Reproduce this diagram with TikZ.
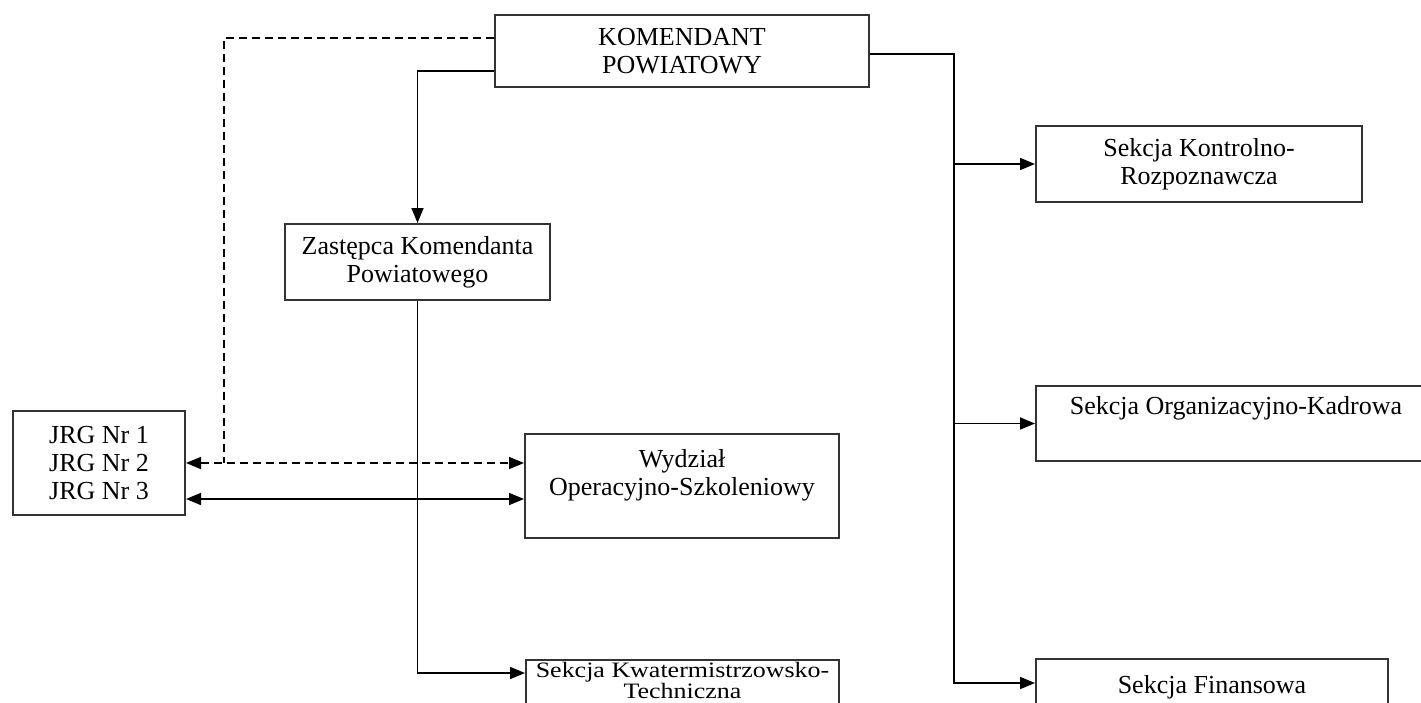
\documentclass[tikz,border=0pt]{standalone}
\usepackage{fontspec}
\setmainfont{Liberation Serif}
\usetikzlibrary{arrows.meta}

\tikzset{
  unit/.style={draw=black!80, line width=2pt, anchor=north west, align=center, inner sep=0pt, font=\fontsize{26}{28}\selectfont},
  conn/.style={line width=1.7pt},
  arr/.style={conn, -{Triangle[length=15pt,width=12pt]}},
  darr/.style={conn, {Triangle[length=15pt,width=12pt]}-{Triangle[length=15pt,width=12pt]}},
  dashline/.style={conn, dash pattern=on 8pt off 5pt},
}

\begin{document}
\begin{tikzpicture}[x=1pt, y=-1pt]
  \useasboundingbox (0,0) rectangle (1421,702);
  \node[unit, minimum width=374pt, minimum height=72pt] (kom) at (494,14) {KOMENDANT\\POWIATOWY};
  \node[unit, minimum width=265pt, minimum height=76pt] (zast) at (284,223) {Zastępca Komendanta\\Powiatowego};
  \node[unit, minimum width=172pt, minimum height=104pt] (jrg) at (12,410) {JRG Nr 1\\JRG Nr 2\\JRG Nr 3};
  \node[unit, minimum width=314pt, minimum height=104pt] (wydz) at (524,433) {Wydział\\Operacyjno-Szkoleniowy\\\mbox{}};
  \node[unit, minimum width=313pt, inner ysep=2pt, font=\fontsize{22}{16}\selectfont\addfontfeatures{FakeStretch=1.18}] (kwat) at (525,659) {Sekcja Kwatermistrzowsko-\\Techniczna\\[8pt]\mbox{}};
  \node[unit, minimum width=326pt, minimum height=76pt] (kontr) at (1035,125) {Sekcja Kontrolno-\\Rozpoznawcza};
  \node[unit, minimum width=400pt, minimum height=75pt] (org) at (1035,385) {Sekcja Organizacyjno-Kadrowa\\[8pt]\mbox{}};
  \node[unit, minimum width=352pt, minimum height=78pt] (fin) at (1035,658) {Sekcja Finansowa\\\mbox{}};

  \draw[arr] ([yshift=-20pt]kom.west) -| (zast.north);
  \draw[dashline] ([yshift=13pt]kom.west) -| ([xshift=38pt]jrg.east);
  \draw[dashline, darr] (jrg.east) -- (jrg.east -| wydz.west);
  \coordinate (jrglow) at ([yshift=-36pt]jrg.east);
  \draw[darr] (jrglow) -- (jrglow -| wydz.west);
  \draw[arr] (zast.south) |- ([yshift=-14pt]kwat.north west);

  \draw[arr] ([yshift=-3pt]kom.east) -- ++(84,0) coordinate (trunk) |- ([yshift=-25pt]fin.north west);
  \draw[arr] (trunk |- kontr.west) -- (kontr.west);
  \draw[arr] (trunk |- org.west) -- (org.west);
\end{tikzpicture}
\end{document}
